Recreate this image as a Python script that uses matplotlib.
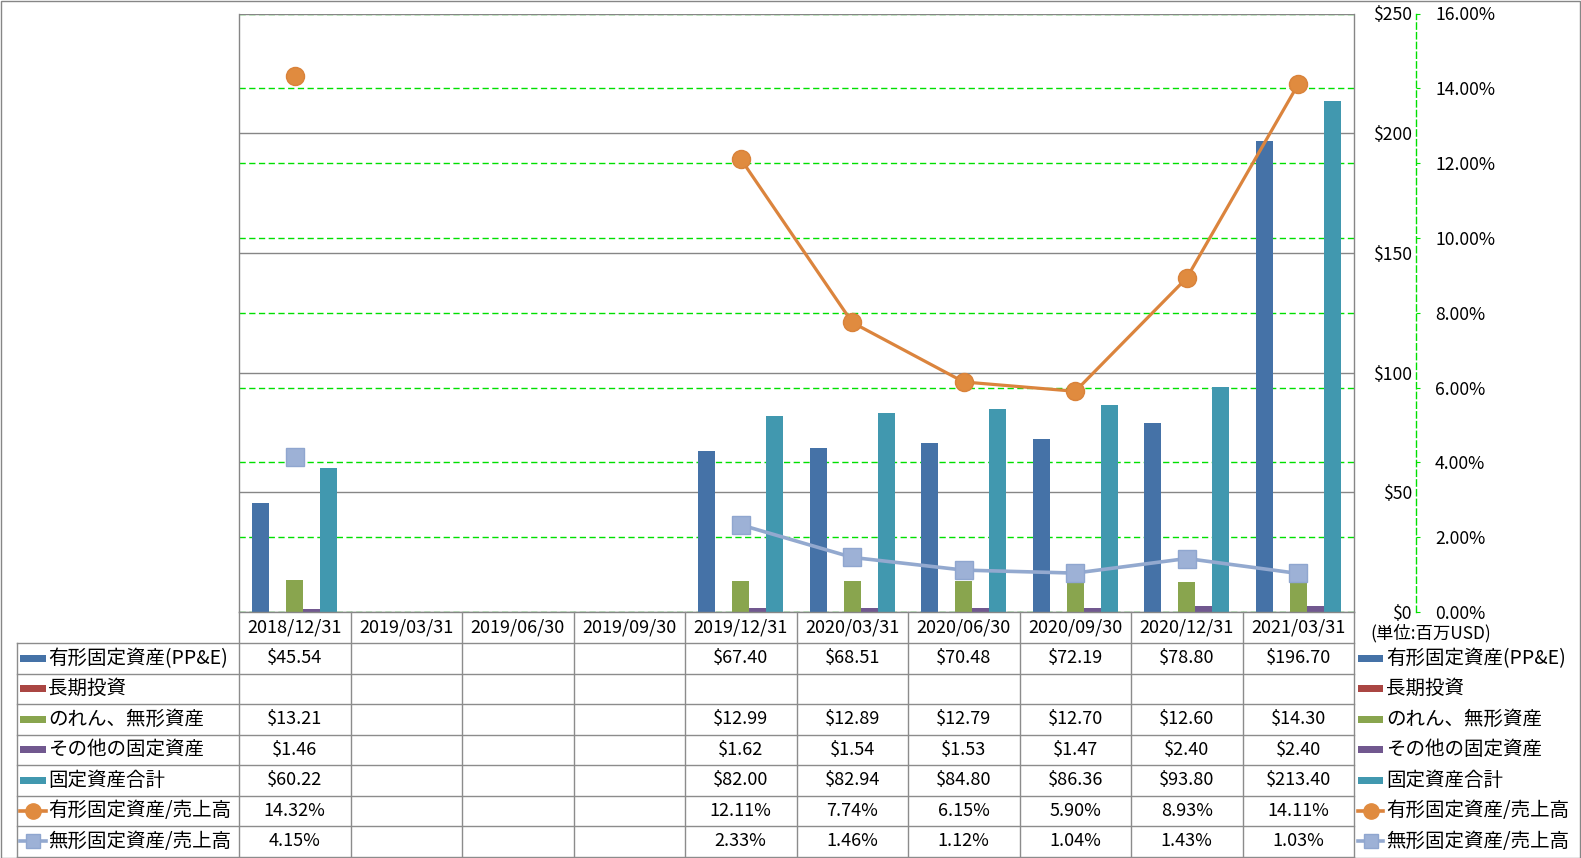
import numpy as np
import matplotlib
matplotlib.use('Agg')
import matplotlib.pyplot as plt
from matplotlib.lines import Line2D
from matplotlib.patches import Rectangle
import matplotlib.ticker as mticker

plt.rcParams['font.family'] = ['Noto Sans CJK JP', 'DejaVu Sans']

nan = np.nan
categories = ['2018/12/31', '2019/03/31', '2019/06/30', '2019/09/30', '2019/12/31',
              '2020/03/31', '2020/06/30', '2020/09/30', '2020/12/31', '2021/03/31']
ppe = [45.54, nan, nan, nan, 67.40, 68.51, 70.48, 72.19, 78.80, 196.70]
long_inv = [nan] * 10
goodwill = [13.21, nan, nan, nan, 12.99, 12.89, 12.79, 12.70, 12.60, 14.30]
other_fixed = [1.46, nan, nan, nan, 1.62, 1.54, 1.53, 1.47, 2.40, 2.40]
total_fixed = [60.22, nan, nan, nan, 82.00, 82.94, 84.80, 86.36, 93.80, 213.40]
ppe_ratio = [14.32, nan, nan, nan, 12.11, 7.74, 6.15, 5.90, 8.93, 14.11]
intang_ratio = [4.15, nan, nan, nan, 2.33, 1.46, 1.12, 1.04, 1.43, 1.03]

bar_names = ['有形固定資産(PP&E)', '長期投資', 'のれん、無形資産', 'その他の固定資産', '固定資産合計']
line_names = ['有形固定資産/売上高', '無形固定資産/売上高']
unit_label = '(単位:百万USD)'

bar_series = [ppe, long_inv, goodwill, other_fixed, total_fixed]
line_series = [ppe_ratio, intang_ratio]
bar_colors = ['#4572A7', '#AA4643', '#89A54E', '#71588F', '#4198AF']
line_colors = ['#DB843D', '#93A9CF']
GREEN = '#00E000'
GRID = '#868686'
TBL = '#8C8C8C'

W, H = 1581, 858
fig = plt.figure(figsize=(W / 100, H / 100), dpi=100)


def fx(x):
    return x / W


def fy(y):
    return 1 - y / H


L, R, T, B = 239, 1354, 13.5, 612
rect = [fx(L), fy(B), fx(R) - fx(L), fy(T) - fy(B)]
n = len(categories)
x = np.arange(n)

# green secondary grid (bottom layer)
axg = fig.add_axes(rect, zorder=0)
axg.set_xlim(-0.5, n - 0.5)
axg.set_ylim(0, 16)
axg.set_yticks(np.arange(0, 17, 2))
axg.set_xticks([])
axg.tick_params(length=0, labelleft=False, labelbottom=False)
axg.grid(axis='y', color=GREEN, linestyle=(0, (4.5, 2.5)), linewidth=1)
for s in axg.spines.values():
    s.set_visible(False)

# primary axis with bars
ax = fig.add_axes(rect, zorder=1)
ax.patch.set_visible(False)
bw = 17 / 111.5
for i, (vals, col) in enumerate(zip(bar_series, bar_colors)):
    ax.bar(x + (i - 2) * bw, vals, width=bw, color=col, zorder=2)
ax.set_xlim(-0.5, n - 0.5)
ax.set_ylim(0, 250)
ax.set_yticks(np.arange(0, 251, 50))
ax.yaxis.set_major_formatter(mticker.FuncFormatter(lambda v, p: f'${v:.0f}'))
ax.yaxis.tick_right()
ax.tick_params(axis='y', length=0, pad=58 * 0.72, labelsize=12.7)
for lab in ax.get_yticklabels():
    lab.set_horizontalalignment('right')
ax.set_xticks([])
ax.set_axisbelow(True)
ax.grid(axis='y', color=GRID, linewidth=1)
for k, s in ax.spines.items():
    s.set_color(GRID)
    s.set_linewidth(1)
ax.spines['top'].set_visible(False)

# secondary axis with lines
ax2 = fig.add_axes(rect, zorder=3)
ax2.patch.set_visible(False)
ax2.set_xlim(-0.5, n - 0.5)
ax2.set_ylim(0, 16)
ax2.plot(x, ppe_ratio, color=line_colors[0], lw=2.3, marker='o', markersize=13,
         markerfacecolor='#E08B3F', markeredgecolor='#D9823A', clip_on=False)
ax2.plot(x, intang_ratio, color=line_colors[1], lw=2.6, marker='s', markersize=12.5,
         markerfacecolor='#9DB1D6', markeredgecolor='#8FA6CF', clip_on=False)
ax2.set_xticks([])
ax2.yaxis.tick_right()
ax2.set_yticks(np.arange(0, 17, 2))
ax2.yaxis.set_major_formatter(mticker.FuncFormatter(lambda v, p: f'{v:.2f}%'))
ax2.tick_params(axis='y', direction='out', length=3, color=GREEN, pad=10.7, labelsize=12.7)
for k, s in ax2.spines.items():
    s.set_visible(False)
ax2.spines['right'].set_visible(True)
ax2.spines['right'].set_position(('outward', 62 * 0.72))
ax2.spines['right'].set_color(GREEN)
ax2.spines['right'].set_linestyle((0, (4.5, 2.5)))
ax2.spines['right'].set_linewidth(1)


# ---------- data table ----------
def hline(y, x0, x1, color=TBL):
    fig.add_artist(Line2D([fx(x0), fx(x1)], [fy(y), fy(y)], transform=fig.transFigure,
                          color=color, lw=1))


def vline(xp, y0, y1, color=TBL):
    fig.add_artist(Line2D([fx(xp), fx(xp)], [fy(y0), fy(y1)], transform=fig.transFigure,
                          color=color, lw=1))


col_w = (R - L) / n
row_h = 30.5
hdr_top, hdr_bot = B, 643
tbl_left = 16.7
rows_y = [hdr_bot + row_h * i for i in range(8)]
tbl_bot = rows_y[-1]

for k in range(n + 1):
    vline(L + k * col_w, hdr_top, tbl_bot)
vline(tbl_left, hdr_bot, tbl_bot)
for yy in rows_y:
    hline(yy, tbl_left, R)

fs = 13
fs_name = 14
for k, c in enumerate(categories):
    fig.text(fx(L + (k + 0.5) * col_w), fy((hdr_top + hdr_bot) / 2), c,
             ha='center', va='center', fontsize=fs)

all_series = bar_series + line_series
for r, vals in enumerate(all_series):
    yc = (rows_y[r] + rows_y[r + 1]) / 2
    for k, v in enumerate(vals):
        if np.isnan(v):
            continue
        txt = f'${v:.2f}' if r < 5 else f'{v:.2f}%'
        fig.text(fx(L + (k + 0.5) * col_w), fy(yc), txt, ha='center', va='center', fontsize=fs)


def legend_key(r, x0, x1, tx):
    yc = (rows_y[r] + rows_y[r + 1]) / 2
    if r < 5:
        fig.add_artist(Rectangle((fx(x0), fy(yc + 3.5)), fx(x1) - fx(x0), 7 / H,
                                 transform=fig.transFigure, color=bar_colors[r], lw=0))
        name = bar_names[r]
    else:
        j = r - 5
        fig.add_artist(Line2D([fx(x0), fx(x1)], [fy(yc), fy(yc)], transform=fig.transFigure,
                              color=line_colors[j], lw=2.6))
        if j == 0:
            fig.add_artist(Line2D([fx((x0 + x1) / 2)], [fy(yc)], transform=fig.transFigure,
                                  marker='o', markersize=11, color='#E08B3F', lw=0))
        else:
            fig.add_artist(Line2D([fx((x0 + x1) / 2)], [fy(yc)], transform=fig.transFigure,
                                  marker='s', markersize=10.5, markerfacecolor='#9DB1D6',
                                  markeredgecolor='#8FA6CF', lw=0))
        name = line_names[j]
    fig.text(fx(tx), fy(yc), name, ha='left', va='center', fontsize=fs_name)


for r in range(7):
    legend_key(r, 20, 46, 48)
    legend_key(r, 1358, 1383, 1386)

fig.text(fx(1370), fy(633), unit_label, ha='left', va='center', fontsize=12.5)

# outer border
fig.add_artist(Rectangle((0.5 / W, 0.5 / H), 1 - 1.5 / W, 1 - 1.5 / H, transform=fig.transFigure,
                         fill=False, edgecolor=GRID, lw=1))

fig.savefig('out.png', dpi=100)
